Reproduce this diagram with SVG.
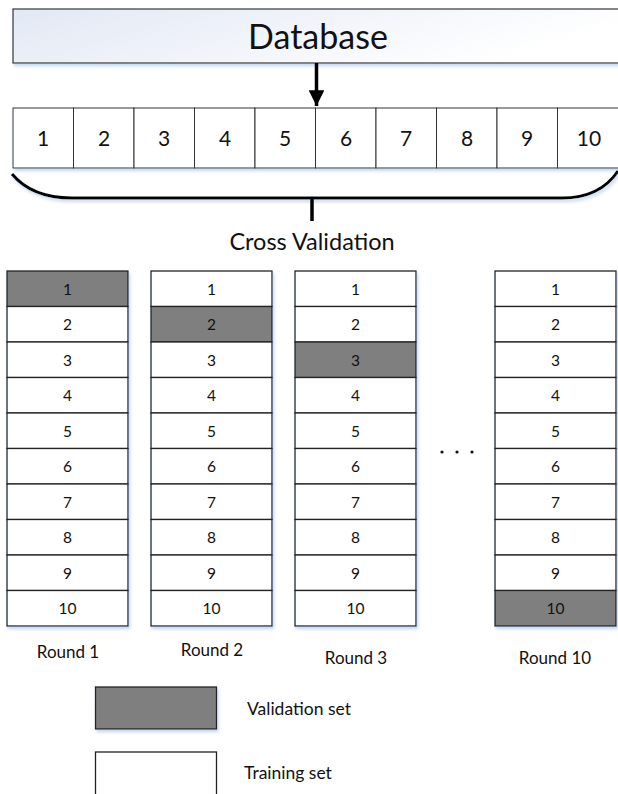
<svg xmlns="http://www.w3.org/2000/svg" width="618" height="794" viewBox="0 0 618 794">
<defs>
<linearGradient id="dbg" x1="0" y1="0" x2="1" y2="0.3">
<stop offset="0" stop-color="#e2e8f4"/>
<stop offset="1" stop-color="#ffffff"/>
</linearGradient>
<filter id="sh" x="-10%" y="-10%" width="130%" height="130%">
<feDropShadow dx="1.5" dy="2.5" stdDeviation="1.5" flood-color="#9dbbe6" flood-opacity="0.6"/>
</filter>
<marker id="ah" viewBox="0 0 10 10" refX="10" refY="5" markerWidth="4.5" markerHeight="4.5" orient="auto" markerUnits="strokeWidth">
<path d="M0,0 L10,5 L0,10 z" fill="#000"/>
</marker>
</defs>
<style>
text{font-family:Lato,"Liberation Sans",sans-serif;fill:#111;text-anchor:middle}
.cell{fill:#fff;stroke:#222;stroke-width:1.3}
.val{fill:#7f7f7f;stroke:#222;stroke-width:1.3}
.top{fill:#fff;stroke:#333;stroke-width:1}
.n1{font-size:21px}
.n2{font-size:15.5px}
.lab{font-size:17px}
.leg{font-size:17.5px;text-anchor:start}
</style>
<g id="database">
<rect x="13" y="9" width="610" height="54" fill="url(#dbg)" stroke="#444" stroke-width="1.3" filter="url(#sh)"/>
<text x="318" y="49" style="font-size:34px">Database</text>
</g>
<g id="folds" filter="url(#sh)">
<rect class="top" x="13" y="108" width="60.5" height="60"/>
<rect class="top" x="73.5" y="108" width="60.5" height="60"/>
<rect class="top" x="134" y="108" width="60.5" height="60"/>
<rect class="top" x="194.5" y="108" width="60.5" height="60"/>
<rect class="top" x="255" y="108" width="60.5" height="60"/>
<rect class="top" x="315.5" y="108" width="60.5" height="60"/>
<rect class="top" x="376" y="108" width="60.5" height="60"/>
<rect class="top" x="436.5" y="108" width="60.5" height="60"/>
<rect class="top" x="497" y="108" width="60.5" height="60"/>
<rect class="top" x="557.5" y="108" width="62" height="60"/>
</g>
<g id="fold-labels" class="n1">
<text x="43" y="146">1</text>
<text x="104" y="146">2</text>
<text x="164" y="146">3</text>
<text x="225" y="146">4</text>
<text x="285" y="146">5</text>
<text x="346" y="146">6</text>
<text x="406" y="146">7</text>
<text x="467" y="146">8</text>
<text x="527" y="146">9</text>
<text x="589" y="146">10</text>
</g>
<g id="connectors">
<line x1="316.5" y1="63" x2="316.5" y2="106" stroke="#000" stroke-width="3.5" marker-end="url(#ah)"/>
<path d="M12,174 Q32,198 72,198 L562,198 Q600,198 618,171" fill="none" stroke="#000" stroke-width="3" filter="url(#sh)"/>
<line x1="312" y1="198" x2="312" y2="221" stroke="#000" stroke-width="3.5"/>
</g>
<g id="cross-validation">
<text x="312" y="250" style="font-size:23.5px">Cross Validation</text>
</g>
<g id="round1" filter="url(#sh)">
<rect class="val" x="7" y="271" width="121" height="35.5"/>
<rect class="cell" x="7" y="306.5" width="121" height="35.5"/>
<rect class="cell" x="7" y="342" width="121" height="35.5"/>
<rect class="cell" x="7" y="377.5" width="121" height="35.5"/>
<rect class="cell" x="7" y="413" width="121" height="35.5"/>
<rect class="cell" x="7" y="448.5" width="121" height="35.5"/>
<rect class="cell" x="7" y="484" width="121" height="35.5"/>
<rect class="cell" x="7" y="519.5" width="121" height="35.5"/>
<rect class="cell" x="7" y="555" width="121" height="35.5"/>
<rect class="cell" x="7" y="590.5" width="121" height="35.5"/>
</g>
<g id="round2" filter="url(#sh)">
<rect class="cell" x="151" y="271" width="121" height="35.5"/>
<rect class="val" x="151" y="306.5" width="121" height="35.5"/>
<rect class="cell" x="151" y="342" width="121" height="35.5"/>
<rect class="cell" x="151" y="377.5" width="121" height="35.5"/>
<rect class="cell" x="151" y="413" width="121" height="35.5"/>
<rect class="cell" x="151" y="448.5" width="121" height="35.5"/>
<rect class="cell" x="151" y="484" width="121" height="35.5"/>
<rect class="cell" x="151" y="519.5" width="121" height="35.5"/>
<rect class="cell" x="151" y="555" width="121" height="35.5"/>
<rect class="cell" x="151" y="590.5" width="121" height="35.5"/>
</g>
<g id="round3" filter="url(#sh)">
<rect class="cell" x="295" y="271" width="121" height="35.5"/>
<rect class="cell" x="295" y="306.5" width="121" height="35.5"/>
<rect class="val" x="295" y="342" width="121" height="35.5"/>
<rect class="cell" x="295" y="377.5" width="121" height="35.5"/>
<rect class="cell" x="295" y="413" width="121" height="35.5"/>
<rect class="cell" x="295" y="448.5" width="121" height="35.5"/>
<rect class="cell" x="295" y="484" width="121" height="35.5"/>
<rect class="cell" x="295" y="519.5" width="121" height="35.5"/>
<rect class="cell" x="295" y="555" width="121" height="35.5"/>
<rect class="cell" x="295" y="590.5" width="121" height="35.5"/>
</g>
<g id="round10" filter="url(#sh)">
<rect class="cell" x="495" y="271" width="121" height="35.5"/>
<rect class="cell" x="495" y="306.5" width="121" height="35.5"/>
<rect class="cell" x="495" y="342" width="121" height="35.5"/>
<rect class="cell" x="495" y="377.5" width="121" height="35.5"/>
<rect class="cell" x="495" y="413" width="121" height="35.5"/>
<rect class="cell" x="495" y="448.5" width="121" height="35.5"/>
<rect class="cell" x="495" y="484" width="121" height="35.5"/>
<rect class="cell" x="495" y="519.5" width="121" height="35.5"/>
<rect class="cell" x="495" y="555" width="121" height="35.5"/>
<rect class="val" x="495" y="590.5" width="121" height="35.5"/>
</g>
<g id="round-numbers" class="n2">
<text x="67.5" y="294.5">1</text><text x="67.5" y="330">2</text><text x="67.5" y="365.5">3</text><text x="67.5" y="401">4</text><text x="67.5" y="436.5">5</text><text x="67.5" y="472">6</text><text x="67.5" y="507.5">7</text><text x="67.5" y="543">8</text><text x="67.5" y="578.5">9</text><text x="67.5" y="614">10</text>
<text x="211.5" y="294.5">1</text><text x="211.5" y="330">2</text><text x="211.5" y="365.5">3</text><text x="211.5" y="401">4</text><text x="211.5" y="436.5">5</text><text x="211.5" y="472">6</text><text x="211.5" y="507.5">7</text><text x="211.5" y="543">8</text><text x="211.5" y="578.5">9</text><text x="211.5" y="614">10</text>
<text x="355.5" y="294.5">1</text><text x="355.5" y="330">2</text><text x="355.5" y="365.5">3</text><text x="355.5" y="401">4</text><text x="355.5" y="436.5">5</text><text x="355.5" y="472">6</text><text x="355.5" y="507.5">7</text><text x="355.5" y="543">8</text><text x="355.5" y="578.5">9</text><text x="355.5" y="614">10</text>
<text x="555.5" y="294.5">1</text><text x="555.5" y="330">2</text><text x="555.5" y="365.5">3</text><text x="555.5" y="401">4</text><text x="555.5" y="436.5">5</text><text x="555.5" y="472">6</text><text x="555.5" y="507.5">7</text><text x="555.5" y="543">8</text><text x="555.5" y="578.5">9</text><text x="555.5" y="614">10</text>
</g>
<g id="ellipsis" fill="#111">
<circle cx="442" cy="452" r="1.6"/>
<circle cx="457" cy="452" r="1.6"/>
<circle cx="472" cy="452" r="1.6"/>
</g>
<g id="round-labels" class="lab">
<text x="68" y="658">Round 1</text>
<text x="212" y="656">Round 2</text>
<text x="356" y="664">Round 3</text>
<text x="555" y="664">Round 10</text>
</g>
<g id="legend-validation">
<rect class="val" x="95.5" y="687" width="121" height="42" filter="url(#sh)"/>
<text x="247" y="715" class="leg">Validation set</text>
</g>
<g id="legend-training">
<rect class="cell" x="95.5" y="752" width="121" height="50"/>
<text x="244" y="779" class="leg">Training set</text>
</g>
</svg>
